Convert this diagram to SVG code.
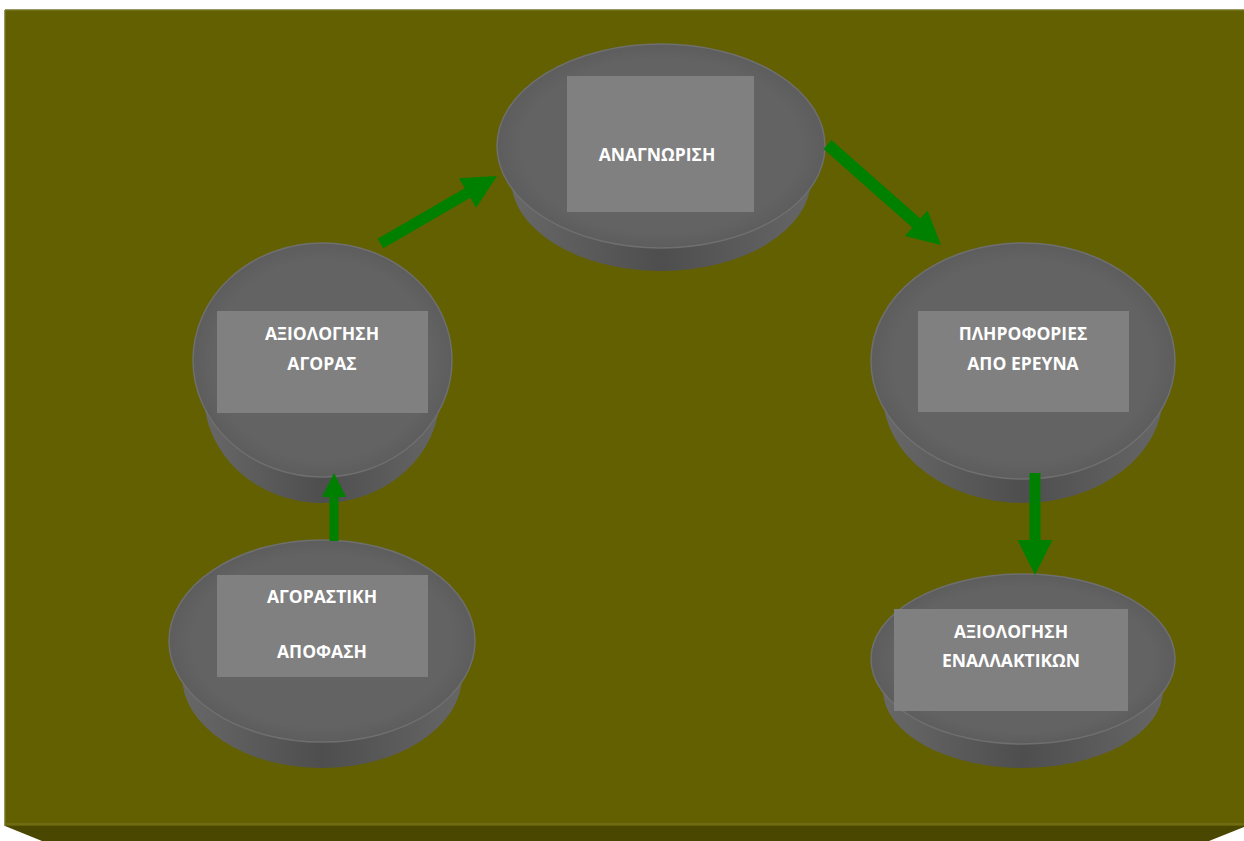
<svg xmlns="http://www.w3.org/2000/svg" width="1244" height="841" viewBox="0 0 1244 841">
  <defs>
    <linearGradient id="side" x1="0" y1="0" x2="1" y2="0">
      <stop offset="0" stop-color="#6a6a6a"/>
      <stop offset="0.5" stop-color="#4e4e4e"/>
      <stop offset="1" stop-color="#686868"/>
    </linearGradient>
    <radialGradient id="face" cx="0.5" cy="0.5" r="0.5">
      <stop offset="0.85" stop-color="#636363"/>
      <stop offset="1" stop-color="#5d5d5d"/>
    </radialGradient>
  </defs>
  <style>
    .side { fill: url(#side); }
    .face { fill: url(#face); stroke: #6f6f6f; stroke-width: 1.5; }
    .box { fill: #808080; }
    .lbl { font-family: "Open Sans", "Liberation Sans", sans-serif; font-weight: bold; font-size: 17.5px; fill: #ffffff; text-anchor: middle; }
    .arrow { fill: #008000; }
  </style>

  <!-- board -->
  <rect x="5" y="10" width="1239" height="816" fill="#626000"/>
  <path d="M5 10 H1244 M5 10 V826" stroke="#77752a" stroke-width="1.5" fill="none"/>
  <line x1="5" y1="824" x2="1244" y2="824" stroke="#6e6c14" stroke-width="2"/>
  <polygon points="5,826 1244,826 1244,827 1209,841 42,841" fill="#4a4800"/>

  <!-- nodes -->
  <g id="node-anagnorisi">
    <path class="side" d="M497 146 L511 179 A150 92 0 0 0 811 179 L825 146 Z"/>
    <ellipse class="face" cx="661" cy="146" rx="164" ry="102"/>
    <rect class="box" x="567" y="76" width="187" height="136"/>
    <text class="lbl" x="657" y="161">ΑΝΑΓΝΩΡΙΣΗ</text>
  </g>

  <g id="node-axiologisi-agoras">
    <path class="side" d="M193 360 L204 395 A118 108 0 0 0 440 395 L452 360 Z"/>
    <ellipse class="face" cx="322.5" cy="360" rx="129.5" ry="117"/>
    <rect class="box" x="217" y="311" width="211" height="102"/>
    <text class="lbl" x="322" y="340">ΑΞΙΟΛΟΓΗΣΗ</text>
    <text class="lbl" x="322" y="370">ΑΓΟΡΑΣ</text>
  </g>

  <g id="node-agorastiki-apofasi">
    <path class="side" d="M169 641 L182 676 A140 92 0 0 0 462 676 L475 641 Z"/>
    <ellipse class="face" cx="322" cy="641" rx="153" ry="101"/>
    <rect class="box" x="217" y="575" width="211" height="102"/>
    <text class="lbl" x="322" y="603">ΑΓΟΡΑΣΤΙΚΗ</text>
    <text class="lbl" x="322" y="658">ΑΠΟΦΑΣΗ</text>
  </g>

  <g id="node-plirofories">
    <path class="side" d="M871 361 L883 395 A140 108 0 0 0 1163 395 L1175 361 Z"/>
    <ellipse class="face" cx="1023" cy="361" rx="152" ry="118"/>
    <rect class="box" x="918" y="311" width="211" height="101"/>
    <text class="lbl" x="1023" y="340">ΠΛΗΡΟΦΟΡΙΕΣ</text>
    <text class="lbl" x="1023" y="370">ΑΠΟ ΕΡΕΥΝΑ</text>
  </g>

  <g id="node-axiologisi-enallaktikon">
    <path class="side" d="M871 659 L883 690 A140 78 0 0 0 1163 690 L1175 659 Z"/>
    <ellipse class="face" cx="1023" cy="659" rx="152" ry="85"/>
    <rect class="box" x="894" y="609" width="234" height="102"/>
    <text class="lbl" x="1011" y="638">ΑΞΙΟΛΟΓΗΣΗ</text>
    <text class="lbl" x="1011" y="667">ΕΝΑΛΛΑΚΤΙΚΩΝ</text>
  </g>

  <!-- connectors -->
  <g id="connectors">
    <polygon class="arrow" points="377.7,238.7 464.8,188.3 459.0,178.3 497,176 476.1,207.8 470.3,197.8 383.3,248.3"/>
    <polygon class="arrow" points="823.5,149.0 912.3,227.6 905.0,235.9 941,245 927.6,210.4 920.3,218.6 831.5,140.0"/>
    <polygon class="arrow" points="1029.5,473 1040.5,473 1040.5,540 1052.5,540 1035,575 1017.5,540 1029.5,540"/>
    <polygon class="arrow" points="329.5,541 338.5,541 338.5,497 346,497 334,473 322,497 329.5,497"/>
  </g>
</svg>
